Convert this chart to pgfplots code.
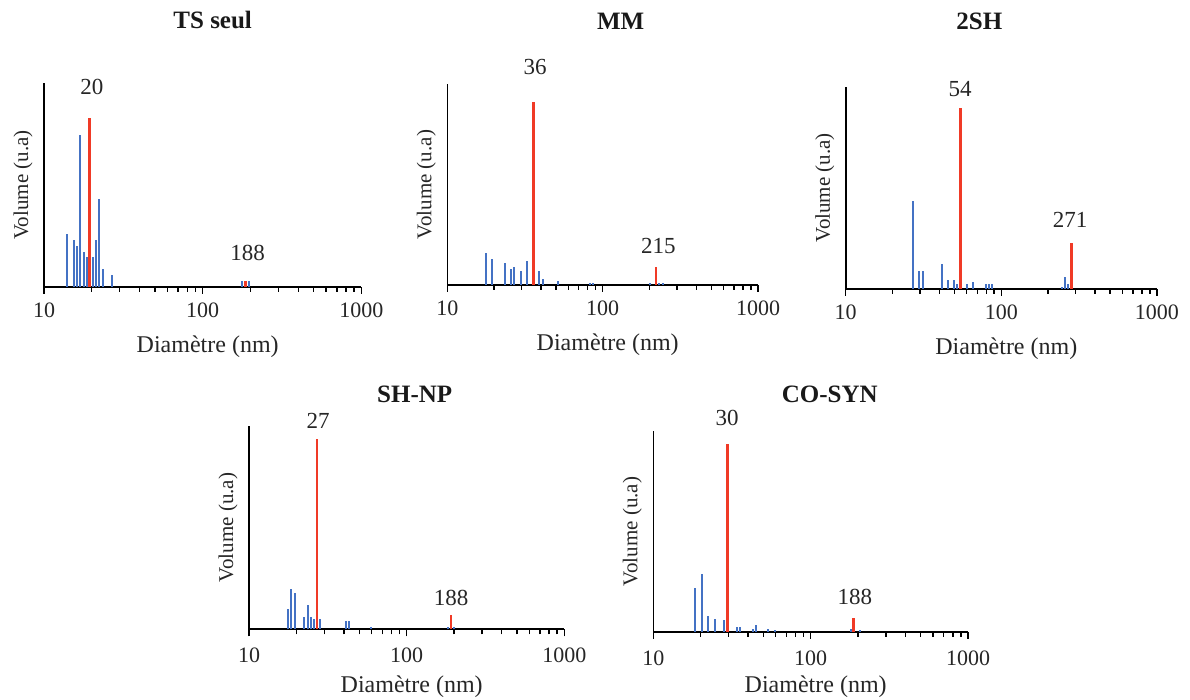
\documentclass[border=0pt]{standalone}
\usepackage{pgfplots}
\pgfplotsset{compat=1.18}
\usepackage{fontspec}
\setmainfont{Liberation Serif}
\definecolor{barblue}{RGB}{68,114,196}
\definecolor{barred}{RGB}{240,58,38}
\pgfplotsset{
  every axis/.append style={
    xmode=log, xmin=10, xmax=1000, ymin=0,
    scale only axis, clip=false, anchor=south west,
    axis x line=bottom, axis y line=left,
    axis line style={-, line width=1.6pt, black},
    xtick={10,100,1000}, xticklabels={10,100,1000},
    minor xtick={20,30,40,50,60,70,80,90,200,300,400,500,600,700,800,900},
    ytick=\empty,
    tick align=outside, major tick length=7pt, minor tick length=5pt,
    every tick/.style={black, line width=1.4pt},
    /pgf/number format/assume math mode=true,
    xticklabel style={font=\fontsize{22}{26}\selectfont, text=black!85, yshift=-5pt},
    xlabel={Diamètre (nm)}, ylabel={Volume (u.a)},
    xlabel style={font=\fontsize{24}{28}\selectfont, text=black!85, at={(axis description cs:0.5,0)}, anchor=base, yshift=-66pt, xshift=5pt},
    ylabel style={font=\fontsize{21}{25}\selectfont, text=black!85, at={(axis description cs:0,0.5)}, anchor=center, yshift=21pt},
    title style={font=\fontsize{25}{29}\selectfont\bfseries, text=black!90, at={(axis description cs:0.5,1)}, anchor=center},
  },
}
\tikzset{
  ann/.style={font=\fontsize{23}{27}\selectfont, text=black!85, anchor=center},
}
\begin{document}
\begin{tikzpicture}
\path[use as bounding box] (0,0) rectangle (1190pt,700pt);
% Panel 1: TS seul
\begin{axis}[at={(44pt,413pt)}, width=317.4pt, height=204pt, ymax=204,
  title={TS seul}, title style={xshift=10pt, yshift=57pt}]
\addplot[ycomb, no marks, draw=barblue, line width=2pt] coordinates {(14.0,53) (15.4,47) (16.1,41) (16.9,152) (17.8,35) (18.6,29.7) (20.3,29.7) (21.2,47) (22.3,87.7) (23.4,17.7) (26.9,12) (177.8,6) (195.5,6)};
\addplot[ycomb, no marks, draw=barred, line width=2.6pt] coordinates {(19.4,169) (186.4,6)};
\node[ann] at (axis cs:20.0,200.3) {20};
\node[ann] at (axis cs:192,34.3) {188};
\end{axis}
% Panel 2: MM
\begin{axis}[at={(447.3pt,415pt)}, width=310.8pt, height=200.7pt, ymax=200.7,
  title={MM}, title style={xshift=18pt, yshift=57pt}]
\addplot[ycomb, no marks, draw=barblue, line width=2pt] coordinates {(17.7,32.3) (19.5,26) (23.5,21.7) (25.7,16) (27.0,17.7) (29.7,14.3) (32.6,24.3) (39.1,14.3) (41.1,5.7) (51.8,4) (82.8,2) (87.0,2) (201.5,2) (231,2) (243,2)};
\addplot[ycomb, no marks, draw=barred, line width=2.6pt] coordinates {(35.8,183.3) (220,17.7)};
\node[ann] at (axis cs:36.7,217.7) {36};
\node[ann] at (axis cs:227.9,39) {215};
\end{axis}
% Panel 3: 2SH
\begin{axis}[at={(845.7pt,411pt)}, width=311.2pt, height=202.3pt, ymax=202.3,
  title={2SH}, title style={xshift=-22pt, yshift=59pt}]
\addplot[ycomb, no marks, draw=barblue, line width=2pt] coordinates {(27.2,88.3) (29.7,18.3) (31.3,18.3) (41.4,25) (45.4,9.3) (49.9,9.3) (52.2,4.7) (60.2,4.7) (66.1,7) (79.4,4.7) (83.0,4.7) (86.7,4.7) (244.4,2.3) (256.7,11.7) (269.7,4.7)};
\addplot[ycomb, no marks, draw=barred, line width=2.6pt] coordinates {(54.8,180.7) (283.4,45.7)};
\node[ann] at (axis cs:54.3,200) {54};
\node[ann] at (axis cs:276.4,69) {271};
\end{axis}
% Panel 4: SH-NP
\begin{axis}[at={(249pt,70.7pt)}, width=315.4pt, height=203.6pt, ymax=203.6,
  title={SH-NP}, title style={xshift=8pt, yshift=25.7pt},
  xticklabel style={yshift=-3pt}, xlabel style={yshift=2.5pt}]
\addplot[ycomb, no marks, draw=barblue, line width=2pt] coordinates {(17.8,20.3) (18.5,40.6) (19.5,36.6) (22.4,12) (23.6,24.3) (24.6,12) (25.8,10) (28.3,10) (41.0,8) (43.1,8) (59.7,2) (182,2) (200.4,2)};
\addplot[ycomb, no marks, draw=barred, line width=2.6pt] coordinates {(27.0,190.3) (191,14)};
\node[ann] at (axis cs:27.4,208.6) {27};
\node[ann] at (axis cs:191,31) {188};
\end{axis}
% Panel 5: CO-SYN
\begin{axis}[at={(653.3pt,68pt)}, width=314.8pt, height=201pt, ymax=201,
  title={CO-SYN}, title style={xshift=19pt, yshift=31pt},
  xticklabel style={yshift=-3pt}, xlabel style={yshift=5pt}]
\addplot[ycomb, no marks, draw=barblue, line width=2pt] coordinates {(18.5,44) (20.3,58.3) (22.4,15.7) (24.5,13.3) (28.1,11.7) (33.9,5.3) (35.5,5.3) (42.8,3.3) (44.7,7.3) (53.8,3.3) (59.0,1.7) (179.5,3.3) (205.6,1.7)};
\addplot[ycomb, no marks, draw=barred, line width=2.6pt] coordinates {(29.5,188) (187.6,13.7)};
\node[ann] at (axis cs:29.4,214) {30};
\node[ann] at (axis cs:191.1,35.3) {188};
\end{axis}
\end{tikzpicture}
\end{document}
